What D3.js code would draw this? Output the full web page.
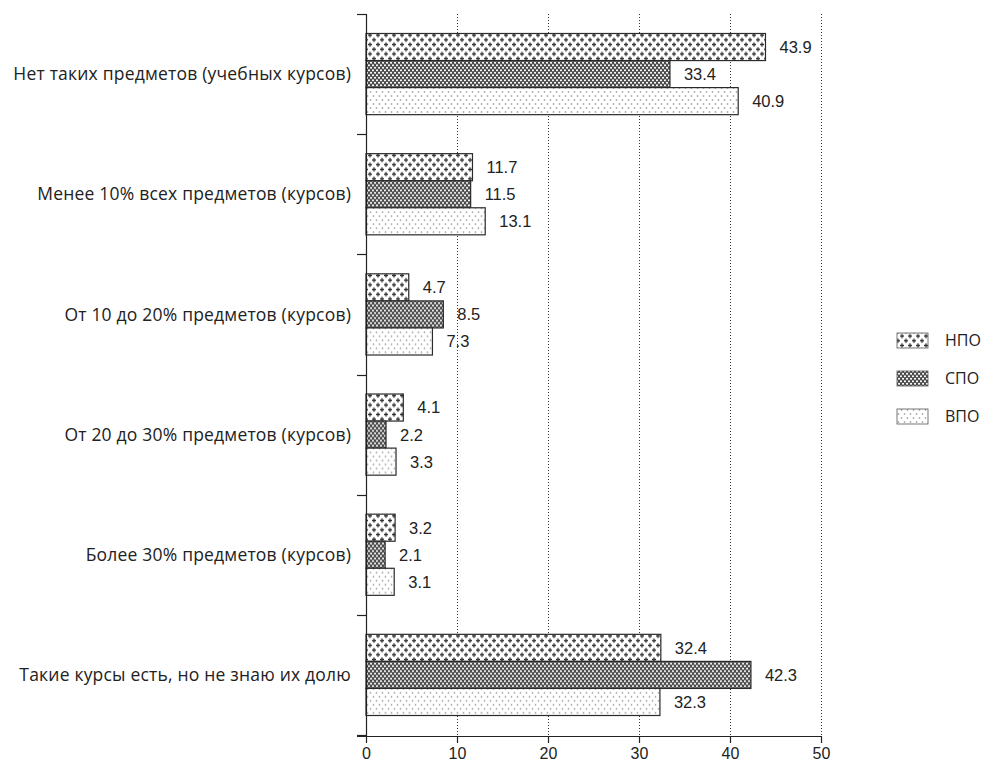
<!DOCTYPE html>
<html><head><meta charset="utf-8">
<script src="https://cdn.jsdelivr.net/npm/d3@7/dist/d3.min.js"></script>
<style>
body{margin:0;background:#fff;}
svg{display:block;}
</style></head>
<body>
<svg id="chart" width="984" height="765"></svg>
<script>
const categories = [
  "Нет таких предметов (учебных курсов)",
  "Менее 10% всех предметов (курсов)",
  "От 10 до 20% предметов (курсов)",
  "От 20 до 30% предметов (курсов)",
  "Более 30% предметов (курсов)",
  "Такие курсы есть, но не знаю их долю"
];
const seriesNames = ["НПО", "СПО", "ВПО"];
const npo = [43.9, 11.7, 4.7, 4.1, 3.2, 32.4];
const spo = [33.4, 11.5, 8.5, 2.2, 2.1, 42.3];
const vpo = [40.9, 13.1, 7.3, 3.3, 3.1, 32.3];
const xTicks = [0, 10, 20, 30, 40, 50];

const seriesValues = [npo, spo, vpo];
const patternIds = ["pNPO", "pSPO", "pVPO"];

const svg = d3.select("#chart");
const defs = svg.append("defs");

// НПО: plus signs, staggered
const p1 = defs.append("pattern").attr("id", "pNPO").attr("patternUnits", "userSpaceOnUse")
  .attr("width", 8).attr("height", 9.4);
p1.append("rect").attr("width", 8).attr("height", 9.4).attr("fill", "#fff");
[[2, 2.35], [6, 7.05]].forEach(([cx, cy]) => {
  p1.append("path").attr("d", `M${cx-2},${cy}H${cx+2}M${cx},${cy-2}V${cy+2}`)
    .attr("stroke", "#2e2e2e").attr("stroke-width", 1.2);
});
// СПО: dark with white dots (diamond lattice)
const p2 = defs.append("pattern").attr("id", "pSPO").attr("patternUnits", "userSpaceOnUse")
  .attr("width", 4).attr("height", 5);
p2.append("rect").attr("width", 4).attr("height", 5).attr("fill", "#4a4a4a");
[[1, 1.25], [3, 3.75]].forEach(([cx, cy]) => {
  p2.append("circle").attr("cx", cx).attr("cy", cy).attr("r", 1.05).attr("fill", "#fff");
});
// ВПО: white with sparse gray dots
const p3 = defs.append("pattern").attr("id", "pVPO").attr("patternUnits", "userSpaceOnUse")
  .attr("width", 6).attr("height", 8);
p3.append("rect").attr("width", 6).attr("height", 8).attr("fill", "#fff");
[[1.5, 2], [4.5, 6]].forEach(([cx, cy]) => {
  p3.append("path").attr("d", `M${cx-1},${cy}H${cx+1}M${cx},${cy-1}V${cy+1}`)
    .attr("stroke", "#b0b0b0").attr("stroke-width", 0.9);
});

const x = d3.scaleLinear().domain([0, 50]).range([366, 821]);
const y0 = d3.scaleBand().domain(categories).range([14, 735]).padding(0);
const y1 = d3.scaleBand().domain(seriesNames).range([19.5, y0.bandwidth() - 19.5]).padding(0);

// gridlines
svg.append("g").selectAll("line").data(xTicks.filter(t => t > 0)).join("line")
  .attr("x1", d => Math.round(x(d)) + 0.5).attr("x2", d => Math.round(x(d)) + 0.5)
  .attr("y1", 14).attr("y2", 736)
  .attr("stroke", "#333").attr("stroke-width", 1).attr("stroke-dasharray", "1,2");

// bars
const groups = svg.append("g").selectAll("g").data(categories).join("g")
  .attr("transform", d => `translate(0,${y0(d)})`);
groups.each(function(cat, ci) {
  const g = d3.select(this);
  seriesNames.forEach((s, si) => {
    const v = seriesValues[si][ci];
    g.append("rect")
      .attr("x", x(0)).attr("y", y1(s))
      .attr("width", x(v) - x(0)).attr("height", y1.bandwidth())
      .attr("fill", `url(#${patternIds[si]})`)
      .attr("stroke", "#2a2a2a").attr("stroke-width", 1.2);
    g.append("text")
      .attr("x", x(v) + 14).attr("y", y1(s) + y1.bandwidth() / 2)
      .attr("dy", "0.36em")
      .attr("font-family", "'Liberation Sans', Arial, sans-serif")
      .attr("font-size", 16.5).attr("fill", "#222")
      .text(v.toFixed(1));
  });
});

// y axis
const yAxis = svg.append("g");
yAxis.append("line").attr("x1", 366.5).attr("x2", 366.5).attr("y1", 14).attr("y2", 736)
  .attr("stroke", "#222").attr("stroke-width", 1.2);
const boundaries = categories.map(c => y0(c)).concat([y0.range()[1]]);
yAxis.selectAll("line.tk").data(boundaries).join("line").attr("class", "tk")
  .attr("x1", 357).attr("x2", 366.5).attr("y1", d => Math.round(d) + 0.5).attr("y2", d => Math.round(d) + 0.5)
  .attr("stroke", "#222").attr("stroke-width", 1.2);
yAxis.selectAll("text").data(categories).join("text")
  .attr("x", 351).attr("y", d => y0(d) + y0.bandwidth() / 2).attr("dy", "0.35em")
  .attr("text-anchor", "end")
  .attr("font-family", "'Open Sans', 'Noto Sans', sans-serif")
  .attr("font-size", 17.5).attr("letter-spacing", 0.2).attr("fill", "#222")
  .text(d => d);

// x axis
const xAxis = svg.append("g").attr("transform", "translate(0,736)")
  .call(d3.axisBottom(x).tickValues(xTicks).tickSize(7).tickPadding(5).tickFormat(d3.format("d")));
xAxis.select(".domain").attr("d", "M357,0.5H821").attr("stroke", "#222").attr("stroke-width", 1.2);
xAxis.selectAll(".tick line").attr("stroke", "#222").attr("stroke-width", 1.2);
xAxis.selectAll(".tick text")
  .attr("font-family", "'Liberation Sans', Arial, sans-serif")
  .attr("font-size", 16).attr("fill", "#222");

// legend
const legend = svg.append("g");
seriesNames.forEach((s, i) => {
  const cy = 340 + i * 38;
  legend.append("rect").attr("x", 897).attr("y", cy - 7).attr("width", 31).attr("height", 15)
    .attr("fill", `url(#${patternIds[i]})`).attr("stroke", "#555").attr("stroke-width", 0.8);
  legend.append("text").attr("x", 945).attr("y", cy).attr("dy", "0.36em")
    .attr("font-family", "'Open Sans', 'Noto Sans', sans-serif")
    .attr("font-size", 16).attr("fill", "#222").text(s);
});
</script>
</body></html>
